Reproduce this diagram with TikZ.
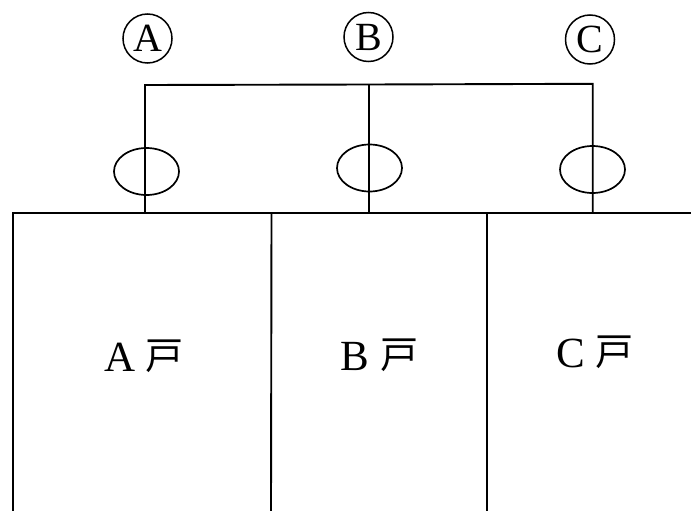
\documentclass[tikz,border=0pt]{standalone}
\usepackage{fontspec}
\setmainfont{Liberation Serif}
\newfontfamily\cjk{Noto Sans CJK JP}
\usetikzlibrary{shapes.geometric}
\tikzset{ln/.style={draw=black,line width=1.9pt},
meter/.style={draw=black,line width=1.7pt,ellipse,minimum width=65pt,minimum height=47pt,inner sep=0pt},
circ/.style={draw=black,line width=1.5pt,circle,minimum size=49pt,inner sep=0pt,font=\fontsize{40}{40}\selectfont},
lab/.style={font=\fontsize{43}{43}\selectfont,text=black,inner sep=0pt},
kana/.style={font=\cjk\fontsize{38}{38}\selectfont,text=black,inner sep=0pt}}
\begin{document}
\begin{tikzpicture}[x=1pt,y=-1pt]
\useasboundingbox (0,0) rectangle (691,511);
\fill[white] (0,0) rectangle (691,511);
\node[circ] (ca) at (147.5,38.5) {A};
\node[circ] (cb) at (368.5,37) {B};
\node[circ] (cc) at (590,39.5) {C};
\coordinate (ta) at (145,85);
\coordinate (tb) at (369,84.5);
\coordinate (tc) at (592.7,83.8);
\coordinate (ba) at (145,212.7);
\coordinate (bb) at (369,212.7);
\coordinate (bc) at (592.7,212.7);
\node[meter] (ma) at (146.5,171.5) {};
\node[meter] (mb) at (369.5,168) {};
\node[meter] (mc) at (592.5,169.5) {};
\draw[ln] (ba) -- (ta) -- (tb) -- (tc) -- (bc);
\draw[ln] (tb) -- (bb);
\coordinate (l) at (13,212.7);
\coordinate (r) at (691,212.7);
\coordinate (d0) at (13,511);
\coordinate (d1) at (271,511);
\coordinate (d2) at (487,511);
\coordinate (t1) at (271.5,212.7);
\coordinate (t2) at (487,212.7);
\draw[ln] (d0) -- (l) -- (r);
\draw[ln] (t1) -- (d1);
\draw[ln] (t2) -- (d2);
\node[lab] (a) at (120.5,357) {A};
\node[kana] (ak) at (164.5,356) {戸};
\node[lab] (b) at (355,356) {B};
\node[kana] (bk) at (399.5,355) {戸};
\node[lab] (c) at (571,353.5) {C};
\node[kana] (ck) at (614,352.5) {戸};
\end{tikzpicture}
\end{document}
